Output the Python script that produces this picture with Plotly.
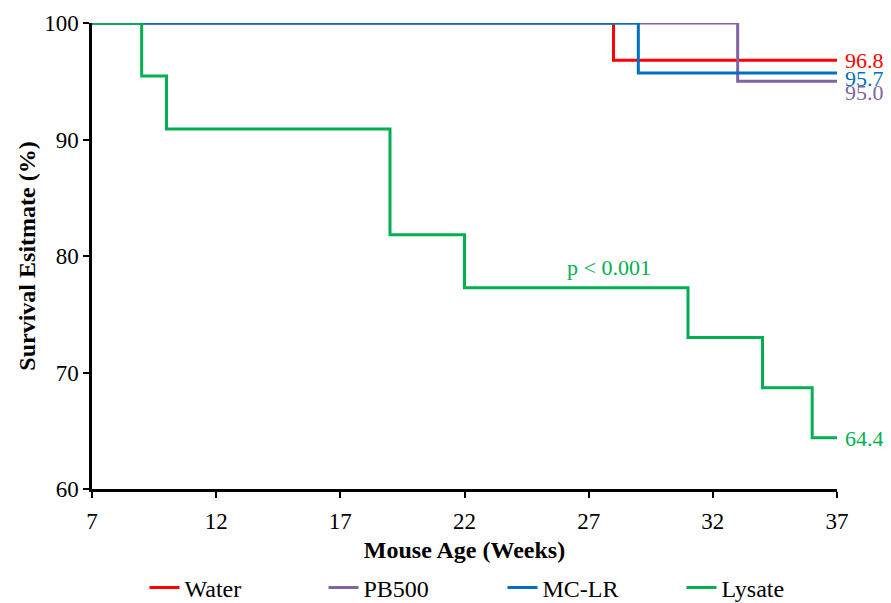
import plotly.graph_objects as go

# Data (Kaplan-Meier step curves)
water_x = [7, 28, 37]
water_y = [100, 96.8, 96.8]
pb500_x = [7, 33, 37]
pb500_y = [100, 95.0, 95.0]
mclr_x = [7, 29, 37]
mclr_y = [100, 95.7, 95.7]
lysate_x = [7, 9, 10, 19, 22, 31, 34, 36, 37]
lysate_y = [100, 95.45, 90.91, 81.82, 77.27, 73.0, 68.7, 64.4, 64.4]

series = [
    ("Water", water_x, water_y, "#FF0000", "96.8", 0),
    ("PB500", pb500_x, pb500_y, "#8064A2", "95.0", 11),
    ("MC-LR", mclr_x, mclr_y, "#0070C0", "95.7", 5),
    ("Lysate", lysate_x, lysate_y, "#00B050", "64.4", 1),
]

FONT = "Liberation Serif"
fig = go.Figure()
for name, xs, ys, col, lab, dy in series:
    fig.add_trace(go.Scatter(x=xs, y=ys, mode="lines", name=name,
                             line=dict(color=col, width=3, shape="hv")))
    fig.add_annotation(x=xs[-1], y=ys[-1], text=lab, showarrow=False,
                       xanchor="left", yanchor="middle", xshift=6, yshift=-dy,
                       font=dict(family=FONT, size=22, color=col))

fig.add_annotation(x=27.8, y=79.0, text="p < 0.001", showarrow=False,
                   xanchor="center", yanchor="middle",
                   font=dict(family=FONT, size=22, color="#00B050"))

# page body has an 8px margin -> div offset by 8px
fig.update_layout(
    width=883, height=595,
    margin=dict(l=84, r=54, t=15, b=114, autoexpand=False),
    paper_bgcolor="white", plot_bgcolor="white",
    font=dict(family=FONT, size=23, color="black"),
    showlegend=True,
    legend=dict(orientation="h", x=0.551, xanchor="center", y=-0.2124, yanchor="middle",
                font=dict(family=FONT, size=24), entrywidth=134, entrywidthmode="pixels",
                traceorder="normal", bgcolor="rgba(0,0,0,0)"),
)
fig.update_xaxes(range=[7, 37], tickvals=[7, 12, 17, 22, 27, 32, 37],
                 showline=True, linecolor="black", linewidth=2.5,
                 ticks="outside", ticklen=6, tickwidth=1.5, tickcolor="black",
                 showgrid=False, zeroline=False, automargin=False,
                 ticklabelstandoff=4,
                 tickfont=dict(family=FONT, size=23),
                 title=dict(text="<b>Mouse Age (Weeks)</b>", font=dict(family=FONT, size=24), standoff=8))
fig.update_yaxes(range=[60, 100], tickvals=[60, 70, 80, 90, 100],
                 showline=True, linecolor="black", linewidth=2.5,
                 ticks="outside", ticklen=6, tickwidth=1.5, tickcolor="black",
                 showgrid=False, zeroline=False, automargin=False,
                 tickfont=dict(family=FONT, size=23),
                 title=dict(text="<b>Survival Esitmate (%)</b>", font=dict(family=FONT, size=24), standoff=2))

fig.write_html("out.html")
